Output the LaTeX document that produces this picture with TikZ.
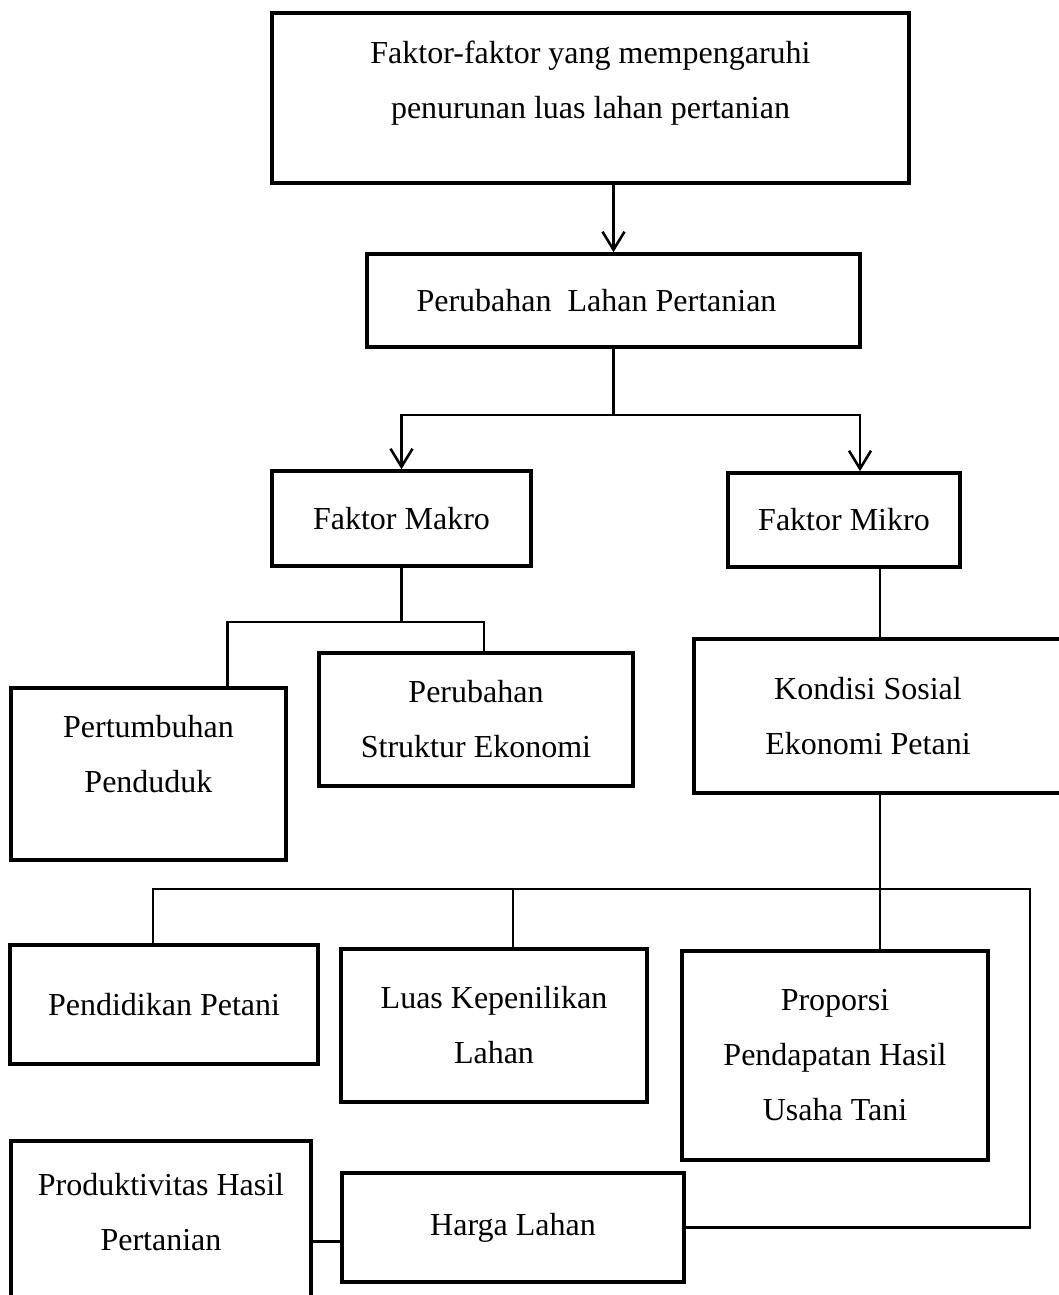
\documentclass[tikz,border=0pt]{standalone}
\usepackage{fontspec}
\setmainfont{Liberation Serif}
\usetikzlibrary{arrows.meta}

\tikzset{
  kotak/.style={draw, line width=1.8pt, inner sep=0pt, align=center, font=\fontsize{16}{27.5}\selectfont},
  garis/.style={line width=1.3pt},
  panah/.style={garis, -{Straight Barb[length=9pt,width=11pt,line width=1.3pt]}}
}

\begin{document}
\begin{tikzpicture}[x=0.5pt, y=-0.5pt]
  \clip (0,0) rectangle (1059,1295);
  % kotak-kotak
  \node[kotak, minimum width=318.5pt, minimum height=85pt, text depth=18pt] (faktor) at (590.5,98) {Faktor-faktor yang mempengaruhi\\penurunan luas lahan pertanian};
  \node[kotak, minimum width=246.5pt, minimum height=46.5pt] (perubahan) at (613.5,300.5) {Perubahan~ Lahan Pertanian\hspace*{17pt}};
  \node[kotak, minimum width=129.5pt, minimum height=47.5pt] (makro) at (401.5,518.5) {Faktor Makro};
  \node[kotak, minimum width=116pt, minimum height=47pt] (mikro) at (844,520) {Faktor Mikro};
  \node[kotak, minimum width=137.5pt, minimum height=86pt, text depth=20pt] (tumbuh) at (148.5,774) {Pertumbuhan\\Penduduk};
  \node[kotak, minimum width=157pt, minimum height=66.5pt] (struktur) at (476,719.5) {Perubahan\\Struktur Ekonomi};
  \node[kotak, minimum width=186pt, minimum height=77pt] (kondisi) at (880,716) {Kondisi Sosial\hspace*{12pt}\\Ekonomi Petani\hspace*{12pt}};
  \node[kotak, minimum width=154pt, minimum height=59.5pt] (pendidikan) at (164,1004.5) {Pendidikan Petani};
  \node[kotak, minimum width=153pt, minimum height=76.5pt] (luas) at (494,1025.5) {Luas Kepenilikan\\Lahan};
  \node[kotak, minimum width=153pt, minimum height=104.5pt] (proporsi) at (835,1055.5) {Proporsi\\Pendapatan Hasil\\Usaha Tani};
  \node[kotak, minimum width=150pt, minimum height=89.5pt, text depth=18.5pt] (produktivitas) at (161,1230.5) {Produktivitas Hasil\\Pertanian};
  \node[kotak, minimum width=171pt, minimum height=54.5pt] (harga) at (513,1227.5) {Harga Lahan};

  % garis penghubung
  \coordinate (bus1) at (613.5,415);
  \coordinate (bus2) at (401.5,622);
  \coordinate (bus3) at (880,889);
  \coordinate (ujung) at (1030,889);
  \draw[panah] (faktor.south -| perubahan.north) -- (perubahan.north);
  \draw[garis] (perubahan.south) -- (bus1);
  \draw[panah] (bus1) -| (makro.north);
  \draw[panah] (bus1) -| ([xshift=8pt]mikro.north);
  \draw[garis] (makro.south) -- (bus2);
  \draw[garis] (bus2) -| ([xshift=39.5pt]tumbuh.north);
  \draw[garis] (bus2) -| ([xshift=4pt]struktur.north);
  \draw[garis] (kondisi.north |- mikro.south) -- (kondisi.north);
  \draw[garis] (kondisi.south) -- (kondisi.south |- proporsi.north);
  \draw[garis] (bus3) -| ([xshift=-5.5pt]pendidikan.north);
  \draw[garis] ([xshift=9.5pt]luas.north) |- (bus3);
  \draw[garis] (bus3) -- (ujung) |- (harga.east);
  \coordinate (hl) at ([yshift=-7pt]harga.west);
  \draw[garis] (hl) -- (hl -| produktivitas.east);
\end{tikzpicture}
\end{document}
